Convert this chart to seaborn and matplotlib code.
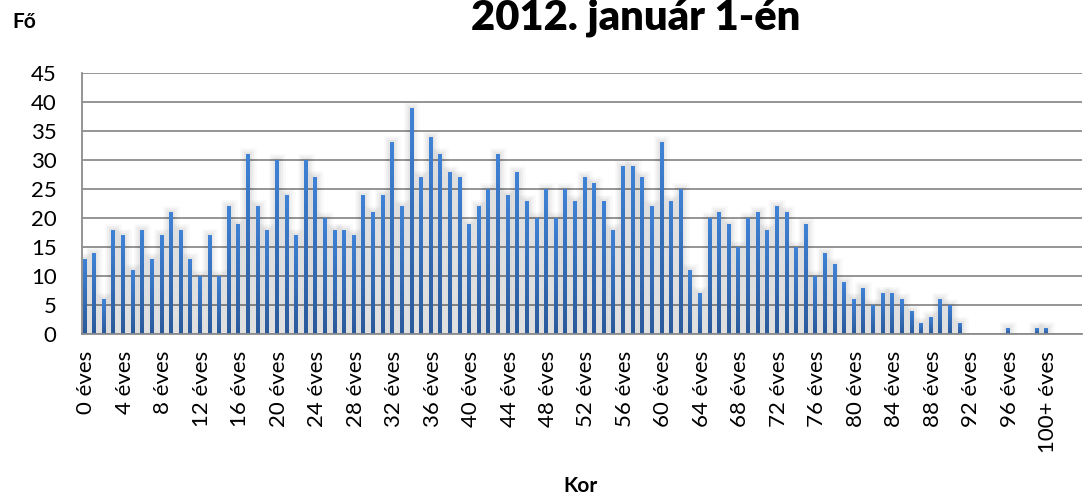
import numpy as np
import pandas as pd
import matplotlib
matplotlib.use("Agg")
import matplotlib.pyplot as plt
import matplotlib.patheffects as pe
from matplotlib.colors import LinearSegmentedColormap
import seaborn as sns

# ---- data ----
ages = [f"{i} éves" for i in range(100)] + ["100+ éves"]
counts = [13, 14, 6, 18, 17, 11, 18, 13, 17, 21,
          18, 13, 10, 17, 10, 22, 19, 31, 22, 18,
          30, 24, 17, 30, 27, 20, 18, 18, 17, 24,
          21, 24, 33, 22, 39, 27, 34, 31, 28, 27,
          19, 22, 25, 31, 24, 28, 23, 20, 25, 20,
          25, 23, 27, 26, 23, 18, 29, 29, 27, 22,
          33, 23, 25, 11, 7, 20, 21, 19, 15, 20,
          21, 18, 22, 21, 15, 19, 10, 14, 12, 9,
          6, 8, 5, 7, 7, 6, 4, 2, 3, 6,
          5, 2, 0, 0, 0, 0, 1, 0, 0, 1,
          1]
series_name = "2012"
series_levels = ["2012", "üres"]   # second (empty) series, as in the original Excel chart
title = "2012. január 1-én"
x_label = "Kor"
y_label = "Fő"
y_ticks = list(range(0, 50, 5))

df = pd.DataFrame({"Kor": ages, "Fő": counts, "Sorozat": series_name})

sns.set_theme(style="white")
plt.rcParams["font.family"] = ["Lato", "DejaVu Sans"]
plt.rcParams["text.color"] = "black"

fig = plt.figure(figsize=(10.83, 4.95), dpi=100)
ax = fig.add_axes([0.0754, 0.325, 0.9234, 0.528])

bar_color = "#3574C6"
sns.barplot(data=df, x="Kor", y="Fő", hue="Sorozat", hue_order=series_levels,
            order=ages, dodge=True, width=0.8,
            palette=[bar_color, bar_color], legend=False, ax=ax,
            saturation=1, linewidth=0, errorbar=None)

# soft glow + vertical gradient on each bar (like the Excel style)
grad_cmap = LinearSegmentedColormap.from_list("bar", ["#2B5A9B", "#3F82D6"])
grad = np.linspace(0, 1, 64).reshape(-1, 1)
glow = [pe.Stroke(linewidth=9, foreground="#000000", alpha=0.025),
        pe.Stroke(linewidth=6, foreground="#000000", alpha=0.035),
        pe.Stroke(linewidth=3, foreground="#000000", alpha=0.04),
        pe.Normal()]
for p in list(ax.patches):
    h = p.get_height()
    if h <= 0:
        continue
    p.set_path_effects(glow)
    x0, w = p.get_x(), p.get_width()
    im = ax.imshow(grad, cmap=grad_cmap, origin="lower", aspect="auto",
                   extent=(x0, x0 + w, 0, h), zorder=p.get_zorder() + 0.1,
                   interpolation="bilinear")
    im.set_clip_path(p)

ax.set_xlim(-0.5, 103.5)
ax.set_ylim(0, 45)
ax.set_yticks(y_ticks)
ax.set_yticklabels([str(t) for t in y_ticks], fontsize=16)
ax.set_xticks(range(0, len(ages), 4))
ax.set_xticklabels(ages[::4], rotation=90, fontsize=16)
ax.tick_params(axis="x", length=0, pad=12, colors="black")
ax.tick_params(axis="y", length=0, pad=18, colors="black")
ax.yaxis.grid(True, color="#8c8c8c", linewidth=1.3)
ax.xaxis.grid(False)
ax.set_axisbelow(True)
for s in ["top", "right"]:
    ax.spines[s].set_visible(False)
for s in ["left", "bottom"]:
    ax.spines[s].set_color("#8c8c8c")
    ax.spines[s].set_linewidth(1.3)
    ax.spines[s].set_zorder(5)
ax.set_xlabel("")
ax.set_ylabel("")

fig.text(0.587, 0.94, title, ha="center", va="baseline",
         fontsize=30, fontweight="heavy", color="black")
fig.text(0.011, 0.955, y_label, ha="left", va="center",
         fontsize=15, fontweight="bold", color="black")
fig.text(0.536, 0.018, x_label, ha="center", va="center",
         fontsize=15, fontweight="bold", color="black")

fig.savefig("out.png", dpi=100)
